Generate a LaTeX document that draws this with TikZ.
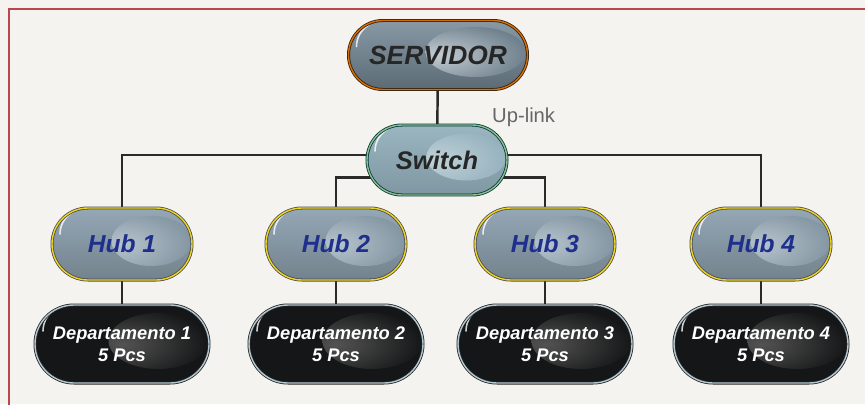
\documentclass[tikz,border=0pt]{standalone}
\usepackage{fontspec}
\setmainfont{Liberation Sans}
\usetikzlibrary{calc,backgrounds}

\definecolor{paper}{HTML}{F5F3EF}
\definecolor{framered}{HTML}{B9474C}
\definecolor{wire}{HTML}{2B2A28}
\definecolor{hubblue}{HTML}{1F2F8C}
\definecolor{srvfill}{HTML}{7A8E9C}
\definecolor{swfill}{HTML}{95B2BE}
\definecolor{hubfill}{HTML}{8FA3B1}
\definecolor{depfill}{HTML}{151617}

\tikzset{
  gloss/.style n args={4}{path picture={
    \shade[inner color=#1,outer color=#2] ($(path picture bounding box.center)!0.42!(path picture bounding box.east)+(0,0.06)$) ellipse (#3 and #4);
    \draw[white,line width=0.9pt,line cap=round,opacity=.8]
      ([shift={(0.16,-0.52)}]path picture bounding box.north west) arc[start angle=180,end angle=120,radius=0.5];}},
  pill/.style={rectangle,inner sep=0pt,line width=0.45pt,double distance=0.8pt,font=\bfseries\itshape},
  srvbox/.style={pill,minimum width=3.58cm,minimum height=1.38cm,rounded corners=0.69cm,
    draw=black!75!brown,double=orange!85!black,top color=srvfill!90!white,bottom color=srvfill!75!black,
    gloss={white!55!srvfill}{srvfill!90!black}{1.0cm}{0.5cm},text=black!85,font=\bfseries\itshape\fontsize{15}{18}\selectfont},
  swbox/.style={pill,minimum width=2.8cm,minimum height=1.4cm,rounded corners=0.7cm,
    draw=black!55!teal,double=green!25!gray!70!white,top color=swfill!95!white,bottom color=swfill!85!black,
    gloss={white!40!swfill}{swfill}{0.8cm}{0.47cm},text=black!85,font=\bfseries\itshape\fontsize{14.5}{17}\selectfont},
  hubbox/.style={pill,minimum width=2.8cm,minimum height=1.44cm,rounded corners=0.72cm,
    draw=black!70,double=yellow!70!brown,top color=hubfill!95!white,bottom color=hubfill!80!black,
    gloss={white!35!hubfill}{hubfill!92!black}{0.8cm}{0.5cm},text=hubblue,font=\bfseries\itshape\fontsize{14}{17}\selectfont},
  depbox/.style={pill,minimum width=3.48cm,minimum height=1.56cm,rounded corners=0.78cm,
    draw=black!85,double=cyan!30!gray!55!white,fill=depfill,
    gloss={gray!65!black}{depfill}{1.0cm}{0.56cm},text=white,align=center,
    font=\bfseries\itshape\fontsize{10.4}{12.5}\selectfont},
  link/.style={draw=wire,line width=1.4pt}
}

\begin{document}
\begin{tikzpicture}
  \useasboundingbox (0,0) rectangle (17.3,-8.08);

  \node[srvbox] (srv) at (8.76,-1.10) {SERVIDOR};
  \node[swbox] (sw) at (8.74,-3.20) {Switch};
  \node[anchor=west,text=black!60,font=\fontsize{11.5}{13}\selectfont] (uplink) at (9.72,-2.34) {Up-link};

  \node[hubbox] (hub1) at (2.44,-4.88) {Hub 1};
  \node[hubbox] (hub2) at (6.72,-4.88) {Hub 2};
  \node[hubbox] (hub3) at (10.90,-4.88) {Hub 3};
  \node[hubbox] (hub4) at (15.22,-4.88) {Hub 4};

  \node[depbox] (dep1) at (2.44,-6.88) {Departamento 1\\5 Pcs};
  \node[depbox] (dep2) at (6.72,-6.88) {Departamento 2\\5 Pcs};
  \node[depbox] (dep3) at (10.90,-6.88) {Departamento 3\\5 Pcs};
  \node[depbox] (dep4) at (15.22,-6.88) {Departamento 4\\5 Pcs};

  \begin{scope}[on background layer]
    \fill[paper] (0,0) rectangle (17.3,-8.08);
    \draw[framered,line width=1.6pt] (0.18,-8.2) -- (0.18,-0.18) -- (17.4,-0.18);
    \draw[link] (srv) -- (sw);
    \draw[link] ([yshift=1mm]sw.center) -| (hub1);
    \draw[link] ([yshift=1mm]sw.center) -| (hub4);
    \draw[link] ([yshift=-3.5mm]sw.center) -| (hub2);
    \draw[link] ([yshift=-3.5mm]sw.center) -| (hub3);
    \draw[link] (hub1) -- (dep1);
    \draw[link] (hub2) -- (dep2);
    \draw[link] (hub3) -- (dep3);
    \draw[link] (hub4) -- (dep4);
  \end{scope}
\end{tikzpicture}
\end{document}
